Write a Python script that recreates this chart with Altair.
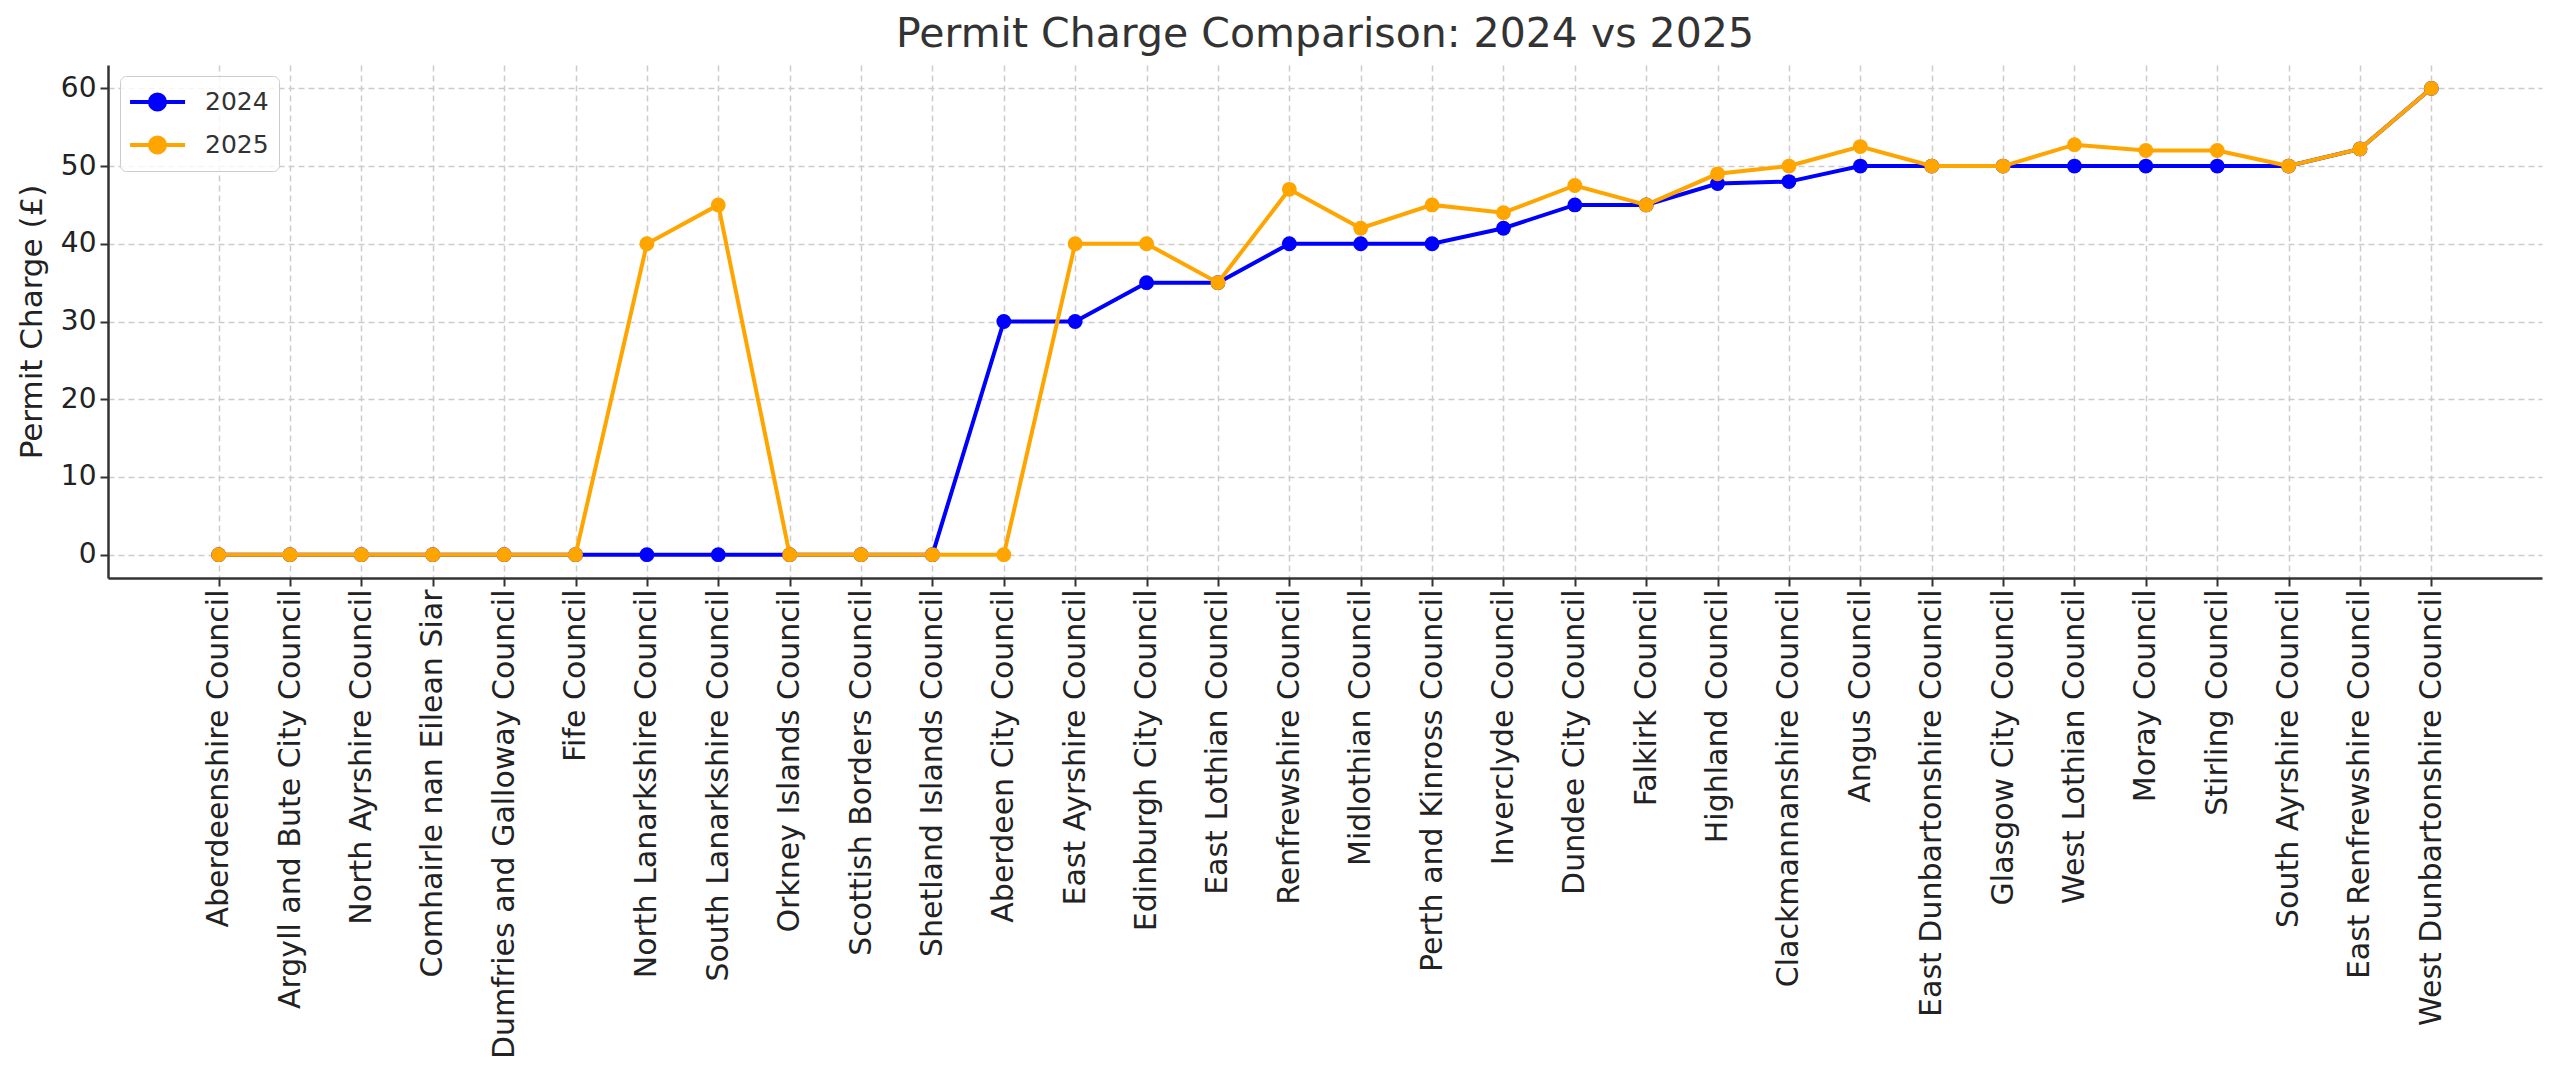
import json
import altair as alt
import pandas as pd

councils = [
    "Aberdeenshire Council", "Argyll and Bute City Council", "North Ayrshire Council",
    "Comhairle nan Eilean Siar", "Dumfries and Galloway Council", "Fife Council",
    "North Lanarkshire Council", "South Lanarkshire Council", "Orkney Islands Council",
    "Scottish Borders Council", "Shetland Islands Council", "Aberdeen City Council",
    "East Ayrshire Council", "Edinburgh City Council", "East Lothian Council",
    "Renfrewshire Council", "Midlothian Council", "Perth and Kinross Council",
    "Inverclyde Council", "Dundee City Council", "Falkirk Council", "Highland Council",
    "Clackmannanshire Council", "Angus Council", "East Dunbartonshire Council",
    "Glasgow City Council", "West Lothian Council", "Moray Council", "Stirling Council",
    "South Ayrshire Council", "East Renfrewshire Council", "West Dunbartonshire Council",
]

charge_2024 = [0, 0, 0, 0, 0, 0, 0, 0, 0, 0, 0,
               30, 30, 35, 35, 40, 40, 40, 42, 45, 45, 47.75, 48, 50,
               50, 50, 50, 50, 50, 50, 52.2, 60]
charge_2025 = [0, 0, 0, 0, 0, 0, 40, 45, 0, 0, 0,
               0, 40, 40, 35, 47, 42, 45, 44, 47.5, 45, 49, 50, 52.5,
               50, 50, 52.75, 52, 52, 50, 52.2, 60]

years = ["2024", "2025"]
colors = ["#0000ff", "#ffa500"]
y_ticks = [0, 10, 20, 30, 40, 50, 60]

rows = []
for yr, vals in zip(years, [charge_2024, charge_2025]):
    for i, (c, v) in enumerate(zip(councils, vals)):
        rows.append({"idx": i, "council": c, "charge": v, "year": yr})
df = pd.DataFrame(rows)

FONT = "DejaVu Sans"
n = len(councils)
margin = 0.05 * (n - 1)

legend_path = ("M-1.14,0L2.79,0"
               "M1.36,0A0.54,0.54,0,1,1,0.28,0A0.54,0.54,0,1,1,1.36,0Z")

base = alt.Chart(df).encode(
    x=alt.X("idx:Q",
            scale=alt.Scale(domain=[-margin, n - 1 + margin], nice=False, zero=False),
            axis=alt.Axis(title=None, values=list(range(n)),
                          labelExpr=json.dumps(councils) + "[round(datum.value)]",
                          labelAngle=-90, labelAlign="right", labelBaseline="middle",
                          labelPadding=3, labelFontSize=30,
                          labelFlush=False, labelOverlap=False,
                          grid=True, labelLimit=1000)),
    y=alt.Y("charge:Q",
            scale=alt.Scale(domain=[-3, 63], nice=False, zero=False),
            axis=alt.Axis(values=y_ticks, title="Permit Charge (£)",
                          labelPadding=4, labelFontSize=28,
                          titleFontSize=31, titlePadding=12, grid=True)),
    color=alt.Color("year:N",
                    scale=alt.Scale(domain=years, range=colors),
                    legend=alt.Legend(title=None, orient="none",
                                      legendX=12, legendY=11,
                                      symbolType=legend_path,
                                      symbolSize=784,
                                      symbolStrokeWidth=4,
                                      labelFontSize=25,
                                      labelFont=FONT,
                                      labelColor="#333333",
                                      labelOffset=43,
                                      rowPadding=11,
                                      padding=10,
                                      fillColor="rgba(255,255,255,0.8)",
                                      strokeColor="#cccccc",
                                      cornerRadius=6)),
)

layers = []
for yr in years:
    b = base.transform_filter(alt.datum.year == yr)
    layers.append(b.mark_line(strokeWidth=4))
    layers.append(b.mark_point(filled=True, size=220, opacity=1))

chart = alt.layer(*layers).properties(
    width=2434,
    height=513,
    title=alt.TitleParams("Permit Charge Comparison: 2024 vs 2025",
                          fontSize=41, font=FONT, fontWeight="normal",
                          color="#333333", anchor="middle", frame="group",
                          baseline="alphabetic", offset=15, dy=38),
    autosize=alt.AutoSizeParams(type="none"),
    padding={"left": 100, "top": 57, "right": 8, "bottom": 490},
).configure_view(stroke=None).configure_axis(
    domainColor="#333333", domainWidth=2.5,
    tickColor="#333333", tickWidth=2, tickSize=8,
    gridColor="#cccccc", gridDash=[6, 4], gridWidth=1.5,
    labelFont=FONT, labelColor="#222222",
    titleFont=FONT, titleFontWeight="normal",
    titleColor="#222222",
)

chart.save("out.html", embed_options={"renderer": "svg", "actions": False})
